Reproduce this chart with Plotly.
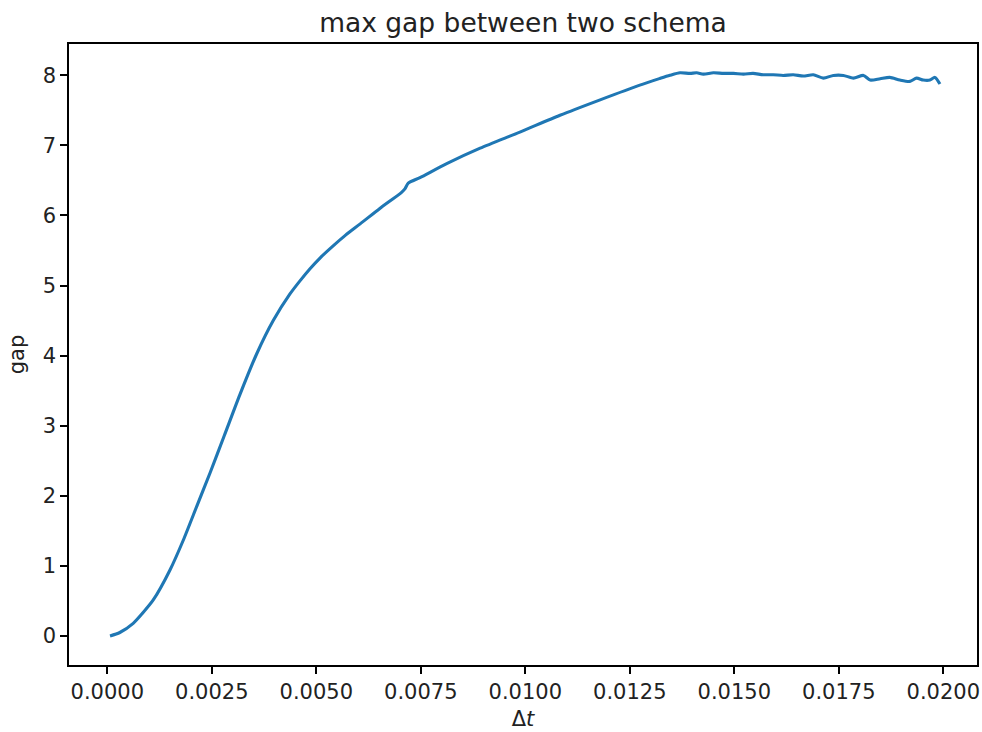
import plotly.graph_objects as go

# Data
dt = [0.000065, 0.0003, 0.00062, 0.00085, 0.0011, 0.0015, 0.00182, 0.00214, 0.00246,
      0.0028, 0.00317, 0.00357, 0.00397, 0.00437, 0.0046, 0.00485, 0.0051, 0.00541,
      0.0057, 0.00605, 0.00652, 0.00704, 0.00712, 0.0072, 0.00748, 0.00812, 0.00892,
      0.00987, 0.01083, 0.01179, 0.01274, 0.01322, 0.01346, 0.01370, 0.01394, 0.01410,
      0.01426, 0.01450, 0.01474, 0.01498, 0.01522, 0.01545, 0.01569, 0.01593, 0.01617,
      0.01641, 0.01665, 0.01689, 0.01713, 0.01737, 0.01761, 0.01785, 0.01809, 0.01825,
      0.01849, 0.01872, 0.01896, 0.01920, 0.01936, 0.01952, 0.01968, 0.01980, 0.01992]
gap = [0.0, 0.05, 0.181, 0.33, 0.514, 0.942, 1.37, 1.85, 2.33,
       2.86, 3.44, 4.02, 4.50, 4.88, 5.06, 5.24, 5.40, 5.57,
       5.72, 5.88, 6.10, 6.33, 6.38, 6.46, 6.54, 6.74, 6.96,
       7.19, 7.43, 7.65, 7.86, 7.955, 8.00, 8.036, 8.027, 8.036,
       8.017, 8.036, 8.027, 8.027, 8.017, 8.027, 8.008, 8.008, 7.998,
       8.008, 7.989, 8.008, 7.960, 7.998, 7.998, 7.960, 7.998, 7.932,
       7.951, 7.970, 7.932, 7.913, 7.960, 7.932, 7.932, 7.970, 7.875]

x_ticks = [0.0, 0.0025, 0.005, 0.0075, 0.01, 0.0125, 0.015, 0.0175, 0.02]
x_tick_labels = ["0.0000", "0.0025", "0.0050", "0.0075", "0.0100", "0.0125", "0.0150", "0.0175", "0.0200"]
y_ticks = [0, 1, 2, 3, 4, 5, 6, 7, 8]
y_tick_labels = ["0", "1", "2", "3", "4", "5", "6", "7", "8"]

title_text = "max gap between two schema"
x_title = "Δ<i>t</i>"
y_title = "gap"

FONT = "DejaVu Sans, sans-serif"

fig = go.Figure()
fig.add_trace(go.Scatter(x=dt, y=gap, mode="lines",
                         line=dict(color="#1f77b4", width=3.1, shape="spline", smoothing=0.7),
                         showlegend=False, hoverinfo="skip"))

axis_common = dict(
    showgrid=False, zeroline=False, automargin=False,
    showline=True, linecolor="black", linewidth=1.6, mirror=True,
    ticks="outside", ticklen=7, tickwidth=1.6, tickcolor="black",
    tickfont=dict(family=FONT, size=21, color="#222222"),
)

fig.update_layout(
    width=982, height=732,
    margin=dict(l=69, r=5, t=44, b=67),
    paper_bgcolor="white", plot_bgcolor="white",
    title=dict(text=title_text, x=0.5, xref="paper", y=1 - 23 / 732, yref="container",
               xanchor="center", yanchor="middle", automargin=False,
               font=dict(family=FONT, size=26.5, color="#222222")),
    xaxis=dict(range=[-0.000916, 0.020806], tickvals=x_ticks, ticktext=x_tick_labels,
               title=dict(text=x_title, standoff=8, font=dict(family=FONT, size=21, color="#222222")),
               **axis_common),
    yaxis=dict(range=[-0.4137, 8.4465], tickvals=y_ticks, ticktext=y_tick_labels,
               title=dict(text=y_title, standoff=12, font=dict(family=FONT, size=21, color="#222222")),
               **axis_common),
)

fig.write_html(
    "out.html",
    config={"displayModeBar": False},
    post_script="document.body.style.margin='0';document.body.style.overflow='hidden';",
)
